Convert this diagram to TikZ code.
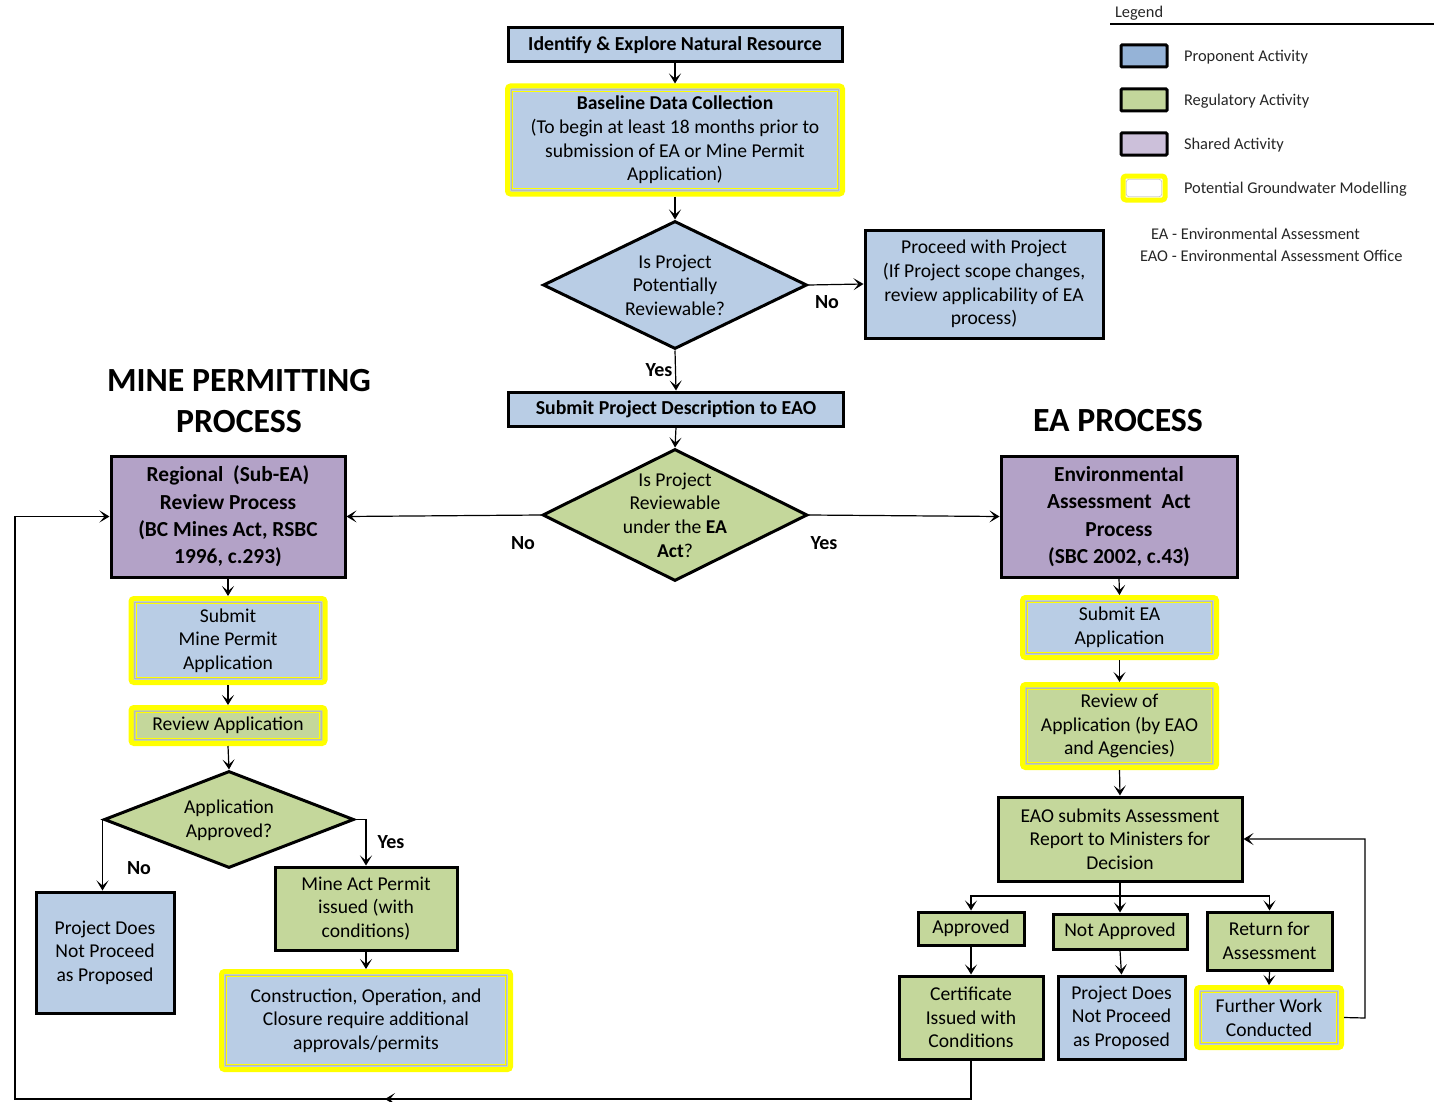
\documentclass[tikz,border=0pt]{standalone}
\usepackage{fontspec}
\setmainfont{Carlito}
\usetikzlibrary{arrows.meta,shapes.geometric}
\definecolor{pblue}{HTML}{B9CDE5}
\definecolor{pgreen}{HTML}{C4D79B}
\definecolor{ppurple}{HTML}{B3A2C7}
\definecolor{lblue}{HTML}{95B3D7}
\definecolor{lgreen}{HTML}{C3D69B}
\definecolor{lpurple}{HTML}{CCC0DA}
\definecolor{gyel}{HTML}{FFFF00}
\tikzset{
  txt/.style={font=\fontsize{9.8}{11.8}\selectfont, align=center},
  box/.style={txt, draw=black, line width=1.5pt, inner sep=1pt},
  bluebox/.style={box, fill=pblue},
  greenbox/.style={box, fill=pgreen},
  purplebox/.style={box, fill=ppurple, font=\bfseries\fontsize{10.7}{13.7}\selectfont},
  gwbox/.style={txt, draw=gyel, line width=2.5pt, rounded corners=1.5pt, inner sep=1pt,
    path picture={
      \draw[gray!55, line width=0.5pt, sharp corners] ([shift={(1.8pt,1.8pt)}]path picture bounding box.south west) rectangle ([shift={(-1.8pt,-1.8pt)}]path picture bounding box.north east);
      \draw[gyel, line width=0.5pt, sharp corners] ([shift={(2.6pt,2.6pt)}]path picture bounding box.south west) rectangle ([shift={(-2.6pt,-2.6pt)}]path picture bounding box.north east);
    }},
  dia/.style={diamond, draw=black, line width=1.5pt, inner sep=0pt, aspect=2},
  arr/.style={line width=0.6pt, -{Stealth[length=5pt,width=6pt,inset=2.5pt]}},
  ln/.style={line width=0.6pt},
  lab/.style={font=\bfseries\fontsize{10}{11}\selectfont},
  head/.style={font=\bfseries\fontsize{16.9}{20.5}\selectfont, align=center},
  legtxt/.style={font=\fontsize{8.2}{9}\selectfont, anchor=west, text=black!85},
  swatch/.style={draw=black, line width=1.5pt, minimum width=23pt, minimum height=11pt, inner sep=0pt, rounded corners=0.5pt},
}
\begin{document}
\begin{tikzpicture}[x=0.5pt, y=-0.5pt]
\useasboundingbox (0,0) rectangle (1434,1102);

% ---- top column
\node[bluebox, font=\bfseries\fontsize{9.9}{11.8}\selectfont, minimum width=167pt, minimum height=17pt] (ident) at (675,45) {Identify \& Explore Natural Resource};
\node[gwbox, fill=pblue, minimum width=167.5pt, minimum height=54pt] (base) at (675,140)
  {\textbf{Baseline Data Collection}\\(To begin at least 18 months prior to\\submission of EA or Mine Permit\\Application)};
\node[dia, fill=pblue, minimum width=132pt, minimum height=64pt] (d1) at (675,285) {};
\node[txt] (d1t) at (675,285) {Is Project\\Potentially\\Reviewable?};
\node[bluebox, minimum width=119pt, minimum height=54pt] (proceed) at (984,284)
  {Proceed with Project\\(If Project scope changes,\\review applicability of EA\\process)};
\node[bluebox, font=\bfseries\fontsize{9.9}{11.8}\selectfont, minimum width=167.5pt, minimum height=17pt] (subdesc) at (676,409) {Submit Project Description to EAO};
\node[dia, fill=pgreen, minimum width=132.5pt, minimum height=66pt] (d2) at (675,515) {};
\node[txt] (d2t) at (675,515) {Is Project\\Reviewable\\under the \textbf{EA}\\\textbf{Act}?};

\node[lab] (no1) at (827,302) {No};
\node[lab] (yes1) at (659,370) {Yes};
\node[lab] (no2) at (523,543) {No};
\node[lab] (yes2) at (824,543) {Yes};

% ---- headings
\node[head] (mph) at (239,401) {MINE PERMITTING\\PROCESS};
\node[head] (eah) at (1118,421) {EA PROCESS};

% ---- left column
\node[purplebox, minimum width=117pt, minimum height=60.5pt] (regional) at (228,516.5)
  {Regional \ (Sub-EA)\\Review Process\\(BC Mines Act, RSBC\\1996, c.293)};
\node[gwbox, fill=pblue, minimum width=97pt, minimum height=42pt] (submine) at (228,640.5) {Submit\\Mine Permit\\Application};
\node[gwbox, fill=pgreen, minimum width=97pt, minimum height=18pt] (revapp) at (228,725.5) {Review Application};
\node[dia, fill=pgreen, minimum width=125pt, minimum height=48.5pt] (d3) at (229,819.5) {};
\node[txt] (d3t) at (229,820) {Application\\Approved?};
\node[bluebox, minimum width=69pt, minimum height=60.5pt] (projL) at (105,952.5) {Project Does\\Not Proceed\\as Proposed};
\node[greenbox, minimum width=91pt, minimum height=41.5pt] (mineact) at (366,908.5) {Mine Act Permit\\issued (with\\conditions)};
\node[gwbox, fill=pblue, minimum width=144.5pt, minimum height=49pt] (constr) at (366,1020.5) {Construction, Operation, and\\Closure require additional\\approvals/permits};
\node[lab] (no3) at (139,868) {No};
\node[lab] (yes3) at (391,842) {Yes};

% ---- right column
\node[purplebox, minimum width=118pt, minimum height=60.5pt] (env) at (1119,516.5)
  {Environmental\\Assessment \ Act\\Process\\(SBC 2002, c.43)};
\node[gwbox, fill=pblue, minimum width=97pt, minimum height=30pt] (subea) at (1119.5,627.5) {Submit EA\\Application};
\node[gwbox, fill=pgreen, minimum width=97pt, minimum height=41.5pt] (revea) at (1119.5,726) {Review of\\Application (by EAO\\and Agencies)};
\node[greenbox, minimum width=122pt, minimum height=42pt] (eao) at (1120,839) {EAO submits Assessment\\Report to Ministers for\\Decision};
\node[greenbox, minimum width=53pt, minimum height=16.5pt] (appr) at (971,928.5) {Approved};
\node[greenbox, minimum width=67pt, minimum height=17.5pt] (notappr) at (1120,931.5) {Not Approved};
\node[greenbox, minimum width=62.5pt, minimum height=29pt] (ret) at (1269.5,941) {Return for\\Assessment};
\node[gwbox, fill=pblue, minimum width=72.5pt, minimum height=30pt] (further) at (1269,1017.5) {Further Work\\Conducted};
\node[greenbox, minimum width=72pt, minimum height=41.5pt] (cert) at (971,1017.5) {Certificate\\Issued with\\Conditions};
\node[bluebox, minimum width=63.5pt, minimum height=41.5pt] (projR) at (1121.5,1017.5) {Project Does\\Not Proceed\\as Proposed};

% ---- connectors
\draw[arr] (ident.south) -- (base.north);
\draw[arr] (base.south) -- (d1.north);
\draw[arr] (d1.east) -- (proceed.west);
\draw[arr] (d1.south) -- (subdesc.north);
\draw[arr] (subdesc.south) -- (d2.north);
\draw[arr] (d2.west) -- (regional.east);
\draw[arr] (d2.east) -- (env.west);

\draw[arr] (regional.south) -- (submine.north);
\draw[arr] (submine.south) -- (revapp.north);
\draw[arr] (revapp.south) -- (d3.north);
\draw[arr] (d3.west) -- (d3.west |- projL.north);
\draw[arr] (d3.east) -| (mineact.north);
\draw[arr] (mineact.south) -- (constr.north);

\draw[arr] (env.south) -- (subea.north);
\draw[arr] (subea.south) -- (revea.north);
\draw[arr] (revea.south) -- (eao.north);
\coordinate (br) at (1120,896);
\draw[ln] (eao.south) -- (br);
\draw[arr] (br) -| (appr.north);
\draw[arr] (br) -- (notappr.north);
\draw[arr] (br) -| (ret.north);
\draw[arr] (appr.south) -- (cert.north);
\draw[arr] (notappr.south) -- (projR.north);
\draw[arr] (ret.south) -- (further.north);
\coordinate (fr) at (1365,1018);
\draw[arr] (further.east) -- (fr) |- (eao.east);

\coordinate (lb) at (15,1099);
\coordinate (mid) at (385,1099);
\draw[arr] (cert.south) |- (lb) |- (regional.west);
\draw[arr] (cert.south |- lb) -- (mid);

% ---- legend
\node[legtxt] (legt) at (1108,13) {Legend};
\coordinate (ll) at (1110,24);
\coordinate (lr) at (1434,24);
\draw[line width=1.1pt] (ll) -- (lr);
\node[swatch, fill=lblue] (s1) at (1144,56) {};
\node[swatch, fill=lgreen] (s2) at (1144,100) {};
\node[swatch, fill=lpurple] (s3) at (1144,144) {};
\node[draw=gyel, line width=2.5pt, rounded corners=1.5pt, minimum width=21pt, minimum height=12pt, inner sep=0pt,
  path picture={\draw[gray!40, line width=0.4pt] ([shift={(1.6pt,1.6pt)}]path picture bounding box.south west) rectangle ([shift={(-1.6pt,-1.6pt)}]path picture bounding box.north east);}] (s4) at (1144,188) {};
\node[legtxt] (l1) at (1177,57) {Proponent Activity};
\node[legtxt] (l2) at (1177,101) {Regulatory Activity};
\node[legtxt] (l3) at (1177,145) {Shared Activity};
\node[legtxt] (l4) at (1177,189) {Potential Groundwater Modelling};
\node[legtxt] (l5) at (1144,234) {EA - Environmental Assessment};
\node[legtxt] (l6) at (1133,256) {EAO - Environmental Assessment Office};
\end{tikzpicture}
\end{document}
